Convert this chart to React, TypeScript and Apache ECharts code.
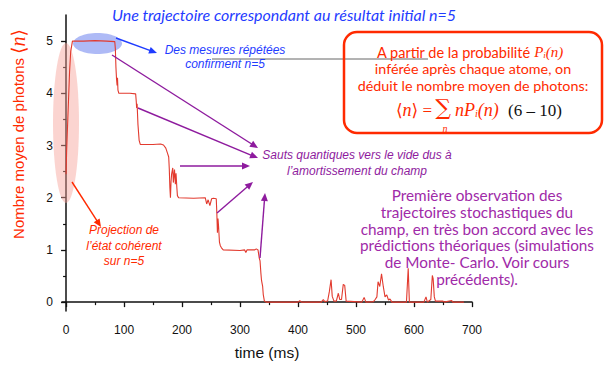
import React, { useEffect, useRef } from "react";
import * as echarts from "echarts";

const times = [0, 1, 2, 3, 4.5, 6, 8, 11, 30, 50, 70, 84, 85, 86, 87, 88, 88.7, 89.5, 91, 110, 120, 121, 121.7, 122.5, 124, 126, 128, 150, 163, 168, 172, 175, 177, 178, 179, 180, 181, 182, 184, 185, 187, 188.5, 189.6, 191, 192, 194, 220, 240, 242.5, 245, 248, 251, 254, 259, 260, 261, 262, 263, 264.5, 266, 268, 271, 300, 308, 310, 312, 325, 328, 331, 333, 334.5, 336, 337, 338, 339, 340, 342, 345, 400, 403, 406, 440, 443.6, 446, 451, 454, 457, 459, 462, 466, 469.5, 472, 475, 478, 480.5, 483, 510, 514, 517, 530, 533, 536, 538, 541, 544, 547, 550, 553, 556, 558.6, 562, 587, 590, 592, 617, 620.7, 623, 629, 631.6, 633, 635, 637, 650, 652, 665, 667, 686];
const photonMean = [2.45, 2.9, 3.2, 3.5, 3.95, 4.4, 4.8, 5.0, 5.0, 5.01, 5.0, 4.99, 4.85, 4.5, 4.28, 4.15, 4.3, 4.06, 4.0, 4.0, 3.99, 3.85, 3.72, 3.8, 3.4, 3.1, 3.02, 3.02, 3.03, 3.01, 2.95, 2.85, 2.78, 2.55, 2.2, 2.0, 2.3, 2.45, 2.57, 2.29, 2.54, 2.26, 2.47, 2.2, 2.04, 2.0, 1.99, 2.0, 1.88, 1.96, 1.85, 1.98, 1.99, 1.98, 1.7, 1.33, 1.6, 1.45, 1.15, 1.08, 1.04, 1.0, 0.99, 1.0, 0.95, 1.0, 1.0, 1.02, 1.0, 0.85, 0.79, 0.55, 0.42, 0.36, 0.3, 0.15, 0.02, 0.0, 0.0, 0.03, 0.0, 0.0, 0.05, 0.01, 0.02, 0.2, 0.43, 0.11, 0.02, 0.02, 0.17, 0.05, 0.05, 0.34, 0.32, 0.02, 0.0, 0.09, 0.0, 0.01, 0.05, 0.1, 0.39, 0.3, 0.54, 0.3, 0.1, 0.14, 0.04, 0.06, 0.0, 0.0, 0.65, 0.0, 0.0, 0.1, 0.0, 0.05, 0.51, 0.45, 0.1, 0.02, 0.02, 0.0, 0.03, 0.0, 0.0];

const xMajorTicks = [0, 100, 200, 300, 400, 500, 600, 700];
const xMinorTicks = [50, 150, 250, 350, 450, 550, 650];
const yMajorTicks = [0, 1, 2, 3, 4, 5];
const yMinorTicks = [0.5, 1.5, 2.5, 3.5, 4.5];

const titleText = "Une trajectoire correspondant au résultat initial n=5";
const confirmLines = ["Des mesures répétées", "confirment n=5"];
const jumpLines = ["Sauts quantiques vers le vide dus à", "l’amortissement du champ"];
const projectionLines = ["Projection de", "l’état cohérent", "sur n=5"];
const boxLines = ["inférée après chaque atome, on", "déduit le nombre moyen de photons:"];
const observationLines = [
  "Première observation des",
  "trajectoires stochastiques du",
  "champ, en très bon accord avec les",
  "prédictions théoriques (simulations",
  "de Monte- Carlo. Voir cours",
  "précédents).",
];

const RED = "#ff2a00";
const PURPLE = "#8e1b9e";
const PURPLE_TXT = "#a02aa8";
const BLUE = "#1f3cff";
const COMIC = "Lato";

function arrow(x1: number, y1: number, x2: number, y2: number, color: string, lw = 1.4, head = 8, hw = 3.5) {
  const dx = x2 - x1, dy = y2 - y1;
  const L = Math.hypot(dx, dy);
  const ux = dx / L, uy = dy / L;
  const bx = x2 - ux * head, by = y2 - uy * head;
  const px = -uy, py = ux;
  return [
    { type: "line", z: 10, shape: { x1, y1, x2: bx + ux * 1, y2: by + uy * 1 }, style: { stroke: color, lineWidth: lw } },
    { type: "polygon", z: 10, shape: { points: [[x2, y2], [bx + px * hw, by + py * hw], [bx - px * hw, by - py * hw]] }, style: { fill: color } },
  ];
}

function textLines(lines: string[], cx: number, y0: number, lh: number, style: any) {
  return lines.map((t, i) => ({
    type: "text", z: 10, x: cx, y: y0 + i * lh,
    style: { text: t, textAlign: "center", textVerticalAlign: "middle", ...style },
  }));
}

export default function App() {
  const ref = useRef<HTMLDivElement>(null);
  useEffect(() => {
    const chart = echarts.init(ref.current!, null, { renderer: "svg" });
    const data = times.map((t, i) => [t, photonMean[i]]);
    const axisCol = "#111";
    const graphic: any[] = [
      { type: "ellipse", z: 1, shape: { cx: 66, cy: 123, rx: 13, ry: 80 }, style: { fill: "rgba(246,160,150,0.45)" } },
      { type: "ellipse", z: 1, shape: { cx: 97.5, cy: 43.5, rx: 24.5, ry: 10.5 }, style: { fill: "rgba(120,140,240,0.6)" } },
      { type: "line", z: 9, shape: { x1: 212, y1: 59, x2: 428, y2: 59 }, style: { stroke: "#666", lineWidth: 1 } },
      { type: "rect", z: 9, shape: { x: 344, y: 32, width: 258, height: 101, r: 13 }, style: { fill: "none", stroke: RED, lineWidth: 2.5 } },
      ...arrow(116, 38, 157, 53, BLUE),
      ...arrow(112, 55, 258, 148, PURPLE),
      ...arrow(138, 108, 258, 158, PURPLE),
      ...arrow(180, 166, 250, 166, PURPLE),
      ...arrow(217, 213, 253, 182, PURPLE),
      ...arrow(260, 258, 265, 193, PURPLE),
      ...arrow(72, 182, 101, 227, RED),
      {
        type: "text", z: 10, x: 284, y: 14,
        style: { text: titleText, fill: BLUE, fontFamily: COMIC, fontStyle: "italic", fontSize: 16, textAlign: "center", textVerticalAlign: "middle" },
      },
      ...textLines(confirmLines, 225, 50, 13.5, { fill: BLUE, fontFamily: "Liberation Sans", fontStyle: "italic", fontSize: 12 }),
      ...textLines(jumpLines, 357, 155, 16, { fill: PURPLE, fontFamily: "Liberation Sans", fontStyle: "italic", fontSize: 12 }),
      ...textLines(projectionLines, 124, 230, 15.5, { fill: RED, fontFamily: "Liberation Sans", fontStyle: "italic", fontSize: 12 }),
      {
        type: "text", z: 10, x: 470, y: 52,
        style: {
          text: "{t|A partir de la probabilité }{m|P}{s|i}{m|(n)}",
          textAlign: "center", textVerticalAlign: "middle",
          rich: {
            t: { fill: RED, fontFamily: COMIC, fontSize: 14.5 },
            m: { fill: RED, fontFamily: "Liberation Serif", fontStyle: "italic", fontSize: 15 },
            s: { fill: RED, fontFamily: "Liberation Serif", fontStyle: "italic", fontSize: 9, padding: [6, 0, 0, 0] },
          },
        },
      },
      ...textLines(boxLines, 473, 68.5, 16.5, { fill: RED, fontFamily: COMIC, fontSize: 14.3 }),
      {
        type: "text", z: 10, x: 432, y: 110,
        style: {
          text: "{b|⟨}{m|n}{b|⟩}{e| =}", textAlign: "right", textVerticalAlign: "middle",
          rich: {
            b: { fill: RED, fontFamily: "DejaVu Serif", fontSize: 17 },
            m: { fill: RED, fontFamily: "Liberation Serif", fontStyle: "italic", fontSize: 18 },
            e: { fill: RED, fontFamily: "Liberation Serif", fontSize: 17 },
          },
        },
      },
      { type: "text", z: 10, x: 443, y: 107, style: { text: "∑", fill: RED, fontFamily: "DejaVu Serif", fontSize: 22, textAlign: "center", textVerticalAlign: "middle" } },
      { type: "text", z: 10, x: 445, y: 128, style: { text: "n", fill: RED, fontFamily: "Liberation Serif", fontStyle: "italic", fontSize: 10, textAlign: "center", textVerticalAlign: "middle" } },
      {
        type: "text", z: 10, x: 455, y: 110,
        style: {
          text: "{m|nP}{s|i}{m|(n)}", textAlign: "left", textVerticalAlign: "middle",
          rich: {
            m: { fill: RED, fontFamily: "Liberation Serif", fontStyle: "italic", fontSize: 18 },
            s: { fill: RED, fontFamily: "Liberation Serif", fontStyle: "italic", fontSize: 10, padding: [7, 0, 0, 0] },
          },
        },
      },
      { type: "text", z: 10, x: 508, y: 110, style: { text: "(6 – 10)", fill: "#111", fontFamily: "Liberation Serif", fontSize: 17, textAlign: "left", textVerticalAlign: "middle" } },
      ...textLines(observationLines, 477, 195, 16.8, { fill: PURPLE_TXT, fontFamily: COMIC, fontSize: 15.3 }),
      {
        type: "text", z: 10, x: 18, y: 134, rotation: Math.PI / 2,
        style: {
          text: "{a|Nombre moyen de photons }{b|⟨}{c|n}{b|⟩}", textAlign: "center", textVerticalAlign: "middle",
          rich: {
            a: { fill: RED, fontFamily: "Liberation Sans", fontSize: 15 },
            b: { fill: RED, fontFamily: "DejaVu Serif", fontSize: 19 },
            c: { fill: RED, fontFamily: "Liberation Serif", fontStyle: "italic", fontSize: 20 },
          },
        },
      },
    ];
    chart.setOption({
      animation: false,
      backgroundColor: "#fff",
      grid: { left: 62, right: 133, top: 15, bottom: 47, containLabel: false },
      xAxis: [
        {
          type: "value", min: -7, max: 700, position: "bottom",
          name: "time (ms)", nameLocation: "middle", nameGap: 33,
          nameTextStyle: { fontFamily: "Liberation Sans", fontSize: 15.5, color: "#111" },
          axisLine: { show: true, lineStyle: { color: axisCol, width: 1.5 } },
          axisTick: { show: true, length: 5, customValues: xMajorTicks, lineStyle: { color: axisCol, width: 1.3 } },
          axisLabel: { customValues: xMajorTicks, margin: 13, fontFamily: "Liberation Sans", fontSize: 12, color: "#111" },
          splitLine: { show: false },
        },
        {
          type: "value", min: -7, max: 700, position: "bottom", offset: 0,
          axisLine: { show: false },
          axisTick: { show: true, length: 3, customValues: xMinorTicks, lineStyle: { color: axisCol, width: 1.2 } },
          axisLabel: { show: false },
          splitLine: { show: false },
        },
      ],
      yAxis: [
        {
          type: "value", min: -0.17, max: 5.5, position: "left",
          axisLine: { show: true, lineStyle: { color: axisCol, width: 1.5 } },
          axisTick: { show: true, length: 5, customValues: yMajorTicks, lineStyle: { color: axisCol, width: 1.3 } },
          axisLabel: { customValues: yMajorTicks, margin: 9, fontFamily: "Liberation Sans", fontSize: 12, color: "#111" },
          splitLine: { show: false },
        },
        {
          type: "value", min: -0.17, max: 5.5, position: "left", offset: 0,
          axisLine: { show: false },
          axisTick: { show: true, length: 3, customValues: yMinorTicks, lineStyle: { color: axisCol, width: 1.2 } },
          axisLabel: { show: false },
          splitLine: { show: false },
        },
      ],
      series: [
        {
          type: "line", xAxisIndex: 0, yAxisIndex: 0, data, symbol: "none", z: 5,
          lineStyle: { color: "#e23a2e", width: 1.1 },
        },
      ],
      graphic,
    });
    return () => chart.dispose();
  }, []);
  return <div ref={ref} style={{ position: "fixed", left: 0, top: 0, width: 605, height: 365, background: "#fff" }} />;
}
